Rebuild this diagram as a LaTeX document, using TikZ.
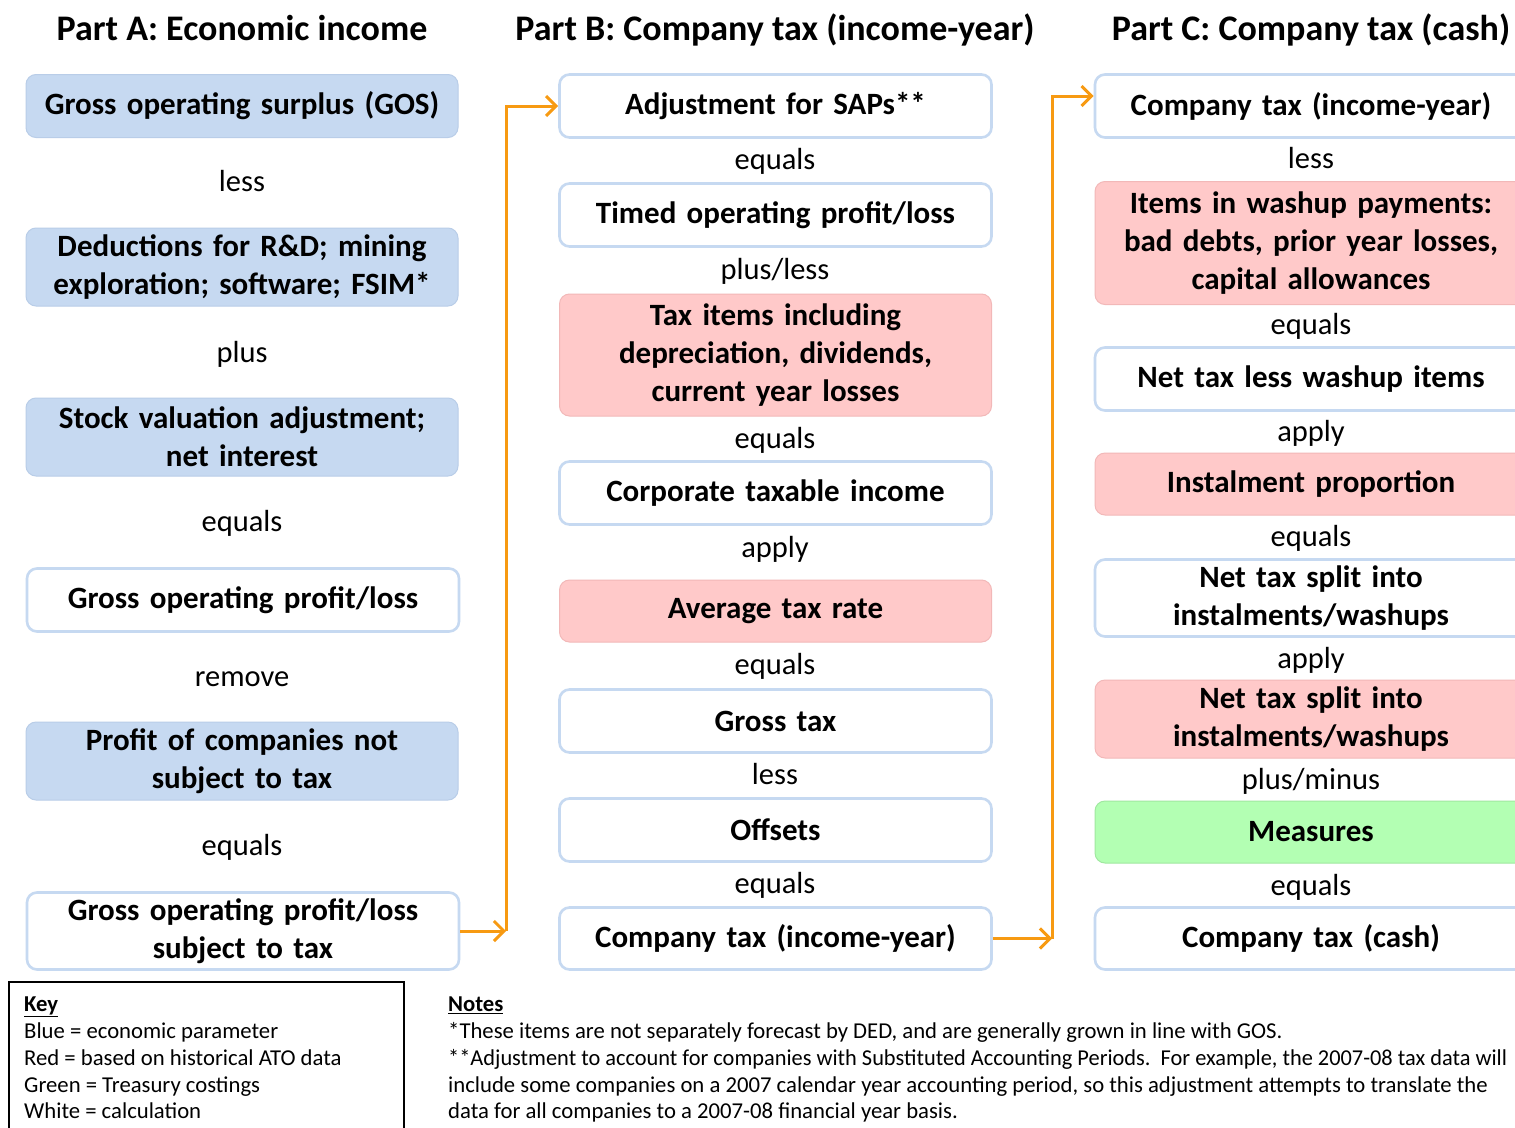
\documentclass[tikz,border=0pt]{standalone}
\usepackage{fontspec}
\setmainfont{Carlito}
\usetikzlibrary{arrows.meta,calc}
\definecolor{bluefill}{HTML}{C6D9F1}
\definecolor{blueline}{HTML}{B9CDE8}
\definecolor{whiteline}{HTML}{C6D9F1}
\definecolor{redfill}{HTML}{FFC9C9}
\definecolor{redline}{HTML}{F2B8B8}
\definecolor{greenfill}{HTML}{B3FFB3}
\definecolor{greenline}{HTML}{A0E8A0}
\definecolor{arroworange}{HTML}{F79A12}
\newcommand{\boxfnt}{\fontsize{31}{38}\selectfont\bfseries}
\newcommand{\lblfnt}{\fontsize{30.5}{34}\selectfont}
\newcommand{\headfnt}{\fontsize{36}{40}\selectfont\bfseries}
\newcommand{\keyfnt}{\fontsize{22.7}{27}\selectfont}
\begin{document}
\begin{tikzpicture}[x=1pt,y=-1pt,
  basebox/.style={rounded corners=10pt, minimum width=432pt, align=center, font=\boxfnt, inner sep=0pt, text width=425pt},
  bluebox/.style={basebox, fill=bluefill, draw=blueline, line width=1pt},
  whitebox/.style={basebox, fill=white, draw=whiteline, line width=2.6pt},
  redbox/.style={basebox, fill=redfill, draw=redline, line width=1pt},
  greenbox/.style={basebox, fill=greenfill, draw=greenline, line width=1pt},
  lbl/.style={font=\lblfnt, inner sep=0pt, text height=0.7em, text depth=0.22em, yshift=-7pt},
  head/.style={font=\headfnt, inner sep=0pt, text height=0.7em, text depth=0.22em, yshift=-9pt},
  keytxt/.style={font=\keyfnt, inner sep=0pt, anchor=west, text height=0.7em, text depth=0.22em, yshift=-5pt},
  oarrow/.style={draw=arroworange, line width=3pt, -{Straight Barb[length=10pt,width=20pt,line width=3pt]}},
]
\useasboundingbox (0,0) rectangle (1515,1127);
\clip (0,0) rectangle (1515,1127);
\fill[white] (0,0) rectangle (1515,1127);

% headings
\node[head] (ha) at (242,29) {Part A: Economic income};
\node[head] (hb) at (775,29) {Part B: Company tax (income-year)};
\node[head] (hc) at (1311,29) {Part C: Company tax (cash)};

% Column A
\node[bluebox, minimum height=63pt] (a1) at (242,106) {Gross operating surplus (GOS)};
\node[lbl] (la1) at (242,182) {less};
\node[bluebox, minimum height=78pt] (a2) at (242,267) {Deductions for R\&D; mining\\exploration; software; FSIM*};
\node[lbl] (la2) at (242,353) {plus};
\node[bluebox, minimum height=78pt] (a3) at (242,437) {Stock valuation adjustment;\\net interest};
\node[lbl] (la3) at (242,522) {equals};
\node[whitebox, minimum height=63pt] (a4) at (243,600) {Gross operating profit/loss};
\node[lbl] (la4) at (242,677) {remove};
\node[bluebox, minimum height=78pt] (a5) at (242,761) {Profit of companies not\\subject to tax};
\node[lbl] (la5) at (242,846) {equals};
\node[whitebox, minimum height=77pt] (a6) at (243,931) {Gross operating profit/loss\\subject to tax};

% Column B
\node[whitebox, minimum height=63pt] (b1) at (775.5,106) {Adjustment for SAPs**};
\node[lbl] (lb1) at (775,160) {equals};
\node[whitebox, minimum height=63pt] (b2) at (775.5,215) {Timed operating profit/loss};
\node[lbl] (lb2) at (775,270) {plus/less};
\node[redbox, minimum height=122pt] (b3) at (775.5,355) {Tax items including\\depreciation, dividends,\\current year losses};
\node[lbl] (lb3) at (775,439) {equals};
\node[whitebox, minimum height=63pt] (b4) at (775.5,493) {Corporate taxable income};
\node[lbl] (lb4) at (775,548) {apply};
\node[redbox, minimum height=62pt] (b5) at (775.5,611) {Average tax rate};
\node[lbl] (lb5) at (775,665) {equals};
\node[whitebox, minimum height=63pt] (b6) at (775.5,721) {Gross tax};
\node[lbl] (lb6) at (775,775) {less};
\node[whitebox, minimum height=63pt] (b7) at (775.5,830) {Offsets};
\node[lbl] (lb7) at (775,884) {equals};
\node[whitebox, minimum height=62pt] (b8) at (775.5,938.5) {Company tax (income-year)};

% Column C
\node[whitebox, minimum height=63pt] (c1) at (1311,106) {Company tax (income-year)};
\node[lbl] (lc1) at (1311,159) {less};
\node[redbox, minimum height=123pt] (c2) at (1311,243) {Items in washup payments:\\bad debts, prior year losses,\\capital allowances};
\node[lbl] (lc2) at (1311,325) {equals};
\node[whitebox, minimum height=63pt] (c3) at (1311,379) {Net tax less washup items};
\node[lbl] (lc3) at (1311,432) {apply};
\node[redbox, minimum height=62pt] (c4) at (1311,484) {Instalment proportion};
\node[lbl] (lc4) at (1311,537) {equals};
\node[whitebox, minimum height=77pt] (c5) at (1311,598) {Net tax split into\\instalments/washups};
\node[lbl] (lc5) at (1311,659) {apply};
\node[redbox, minimum height=78pt] (c6) at (1311,719) {Net tax split into\\instalments/washups};
\node[lbl] (lc6) at (1311,780) {plus/minus};
\node[greenbox, minimum height=62pt] (c7) at (1311,832) {Measures};
\node[lbl] (lc7) at (1311,886) {equals};
\node[whitebox, minimum height=62pt] (c8) at (1311,938.5) {Company tax (cash)};

% connectors
\coordinate (j1) at (506,931);
\coordinate (j2) at (1052,938.5);
\draw[oarrow] (a6.east) -- (j1);
\draw[oarrow] (j1) |- (b1.west);
\draw[oarrow] (b8.east) -- (j2);
\draw[oarrow] (j2) |- ($(c1.west)+(0,-10)$);

% Key
\node[draw=black, line width=2pt, minimum width=395pt, minimum height=170pt, anchor=north west, inner sep=0pt] (keybox) at (8,981) {};
\node[keytxt] (k0) at (24,1004) {\bfseries\underline{Key}};
\node[keytxt] (k1) at (24,1031) {Blue = economic parameter};
\node[keytxt] (k2) at (24,1058) {Red = based on historical ATO data};
\node[keytxt] (k3) at (24,1085) {Green = Treasury costings};
\node[keytxt] (k4) at (24,1111) {White = calculation};

% Notes
\node[keytxt] (n0) at (448,1004) {\bfseries\underline{Notes}};
\node[keytxt] (n1) at (448,1031) {*These items are not separately forecast by DED, and are generally grown in line with GOS.};
\node[keytxt] (n2) at (448,1058) {\scalebox{0.985}[1]{**Adjustment to account for companies with Substituted Accounting Periods.\ \ For example, the 2007-08 tax data will}};
\node[keytxt] (n3) at (448,1085) {include some companies on a 2007 calendar year accounting period, so this adjustment attempts to translate the};
\node[keytxt] (n4) at (448,1111) {data for all companies to a 2007-08 financial year basis.};
\end{tikzpicture}
\end{document}
